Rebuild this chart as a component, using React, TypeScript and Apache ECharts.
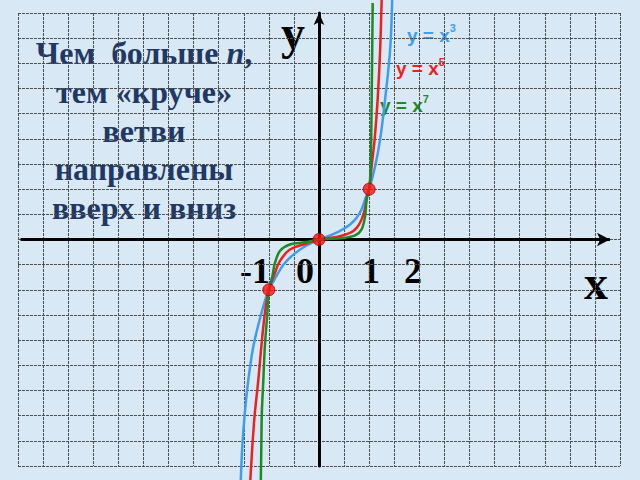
import { useEffect, useRef } from 'react'
import * as echarts from 'echarts'

// points, in axis units (1 unit = 2 grid cells)
const cubePoints: [number, number][] = [
  [-1.56, -4.8], [-1.53, -4.13], [-1.48, -3.46], [-1.41, -2.8], [-1.31, -2.13], [-1.15, -1.47],
  [-1, -1], [-0.85, -0.73], [-0.71, -0.5], [-0.51, -0.3], [-0.25, -0.12], [0, 0],
  [0.22, 0.08], [0.42, 0.17], [0.62, 0.3], [0.75, 0.43], [0.85, 0.6], [0.92, 0.8], [1, 1],
  [1.12, 1.46], [1.22, 2.0], [1.32, 2.8], [1.42, 3.8], [1.46, 4.8],
]

const fifthPoints: [number, number][] = [
  [-1.37, -4.8], [-1.33, -4.13], [-1.28, -3.46], [-1.21, -2.8], [-1.15, -2.13], [-1.08, -1.47],
  [-1, -1], [-0.88, -0.67], [-0.78, -0.43], [-0.58, -0.2], [-0.25, -0.08], [0, 0],
  [0.35, 0.05], [0.62, 0.13], [0.75, 0.23], [0.85, 0.4], [0.92, 0.63], [0.95, 0.83], [1, 1],
  [1.05, 1.46], [1.11, 2.0], [1.17, 2.8], [1.22, 3.8], [1.25, 4.8],
]

const seventhPoints: [number, number][] = [
  [-1.16, -4.8], [-1.15, -4.13], [-1.14, -3.46], [-1.11, -2.8], [-1.08, -2.13], [-1.03, -1.47],
  [-1, -1], [-0.93, -0.73], [-0.88, -0.47], [-0.78, -0.23], [-0.58, -0.1], [-0.25, -0.05], [0, 0],
  [0.49, 0.03], [0.72, 0.08], [0.85, 0.2], [0.92, 0.47], [0.95, 0.8], [1, 1],
  [1.03, 1.46], [1.05, 2.8], [1.07, 4.7],
]

const commonPoints: [number, number][] = [[-1, -1], [0, 0], [1, 1]]

const curveNames = ['y = x', 'y = x', 'y = x']
const curveExponents = ['3', '5', '7']
const tickLabels = ['-1', '0', '1', '2']
const noteLines = ['тем «круче»', 'ветви', 'направлены', 'вверх и вниз']

const BLUE = '#3d9ef0'
const RED = '#f01e1e'
const GREEN = '#1d8a28'
const NAVY = '#1f3864'

export default function App() {
  const chartRef = useRef<HTMLDivElement | null>(null)

  useEffect(() => {
    if (!chartRef.current) {
      return undefined
    }

    const chart = echarts.init(chartRef.current, undefined, { renderer: 'svg' })

    const gridLine = {
      show: true,
      lineStyle: { color: '#4e4e4e', width: 1, type: [3, 1] },
    }

    const curve = (name: string, data: [number, number][], color: string, z: number) => ({
      name,
      type: 'line',
      data,
      smooth: 0.3,
      showSymbol: false,
      clip: false,
      silent: true,
      z,
      lineStyle: { color, width: 2.5 },
    })

    const serif = '"Liberation Serif", "Times New Roman", serif'
    const sans = '"Liberation Sans", Arial, sans-serif'

    const legendX = [407, 396, 380]
    const legendY = [33.5, 67, 104]
    const legendColors = [BLUE, RED, GREEN]
    const tickX = [255, 305, 371, 413]

    chart.setOption({
      animation: false,
      backgroundColor: '#d9e8f5',
      grid: { left: 18, right: 20, top: 13, bottom: 14 },
      xAxis: {
        type: 'value',
        min: -6,
        max: 6,
        interval: 0.5,
        axisLine: { show: false },
        axisTick: { show: false },
        axisLabel: { show: false },
        splitLine: gridLine,
      },
      yAxis: {
        type: 'value',
        min: -4.5,
        max: 4.5,
        interval: 0.5,
        axisLine: {
          show: true,
          onZero: true,
          symbol: ['none', 'arrow'],
          symbolSize: [8, 12],
          lineStyle: { color: '#000', width: 3 },
        },
        axisTick: { show: false },
        axisLabel: { show: false },
        splitLine: gridLine,
        z: 1,
      },
      series: [
        {
          name: 'axes',
          type: 'line',
          data: [[0, 0]],
          showSymbol: false,
          clip: false,
          silent: true,
          z: 1,
          lineStyle: { width: 0 },
          markLine: {
            silent: true,
            symbol: ['none', 'arrow'],
            symbolSize: [10, 13],
            label: { show: false },
            lineStyle: { color: '#000', width: 3, type: 'solid' },
            data: [[{ coord: [-5.95, 0] }, { coord: [5.8, 0] }]],
          },
        },
        curve('x3', cubePoints, BLUE, 3),
        curve('x5', fifthPoints, RED, 4),
        curve('x7', seventhPoints, GREEN, 5),
        {
          name: 'common',
          type: 'scatter',
          data: commonPoints,
          symbolSize: 12,
          clip: false,
          silent: true,
          z: 6,
          itemStyle: { color: '#ff1010', borderColor: '#a00000', borderWidth: 1 },
        },
      ],
      graphic: [
        {
          type: 'text',
          x: 293,
          y: 32,
          style: { text: 'y', font: `bold 48px ${serif}`, fill: '#000', align: 'center', verticalAlign: 'middle' },
        },
        {
          type: 'text',
          x: 596,
          y: 282,
          style: { text: 'x', font: `bold 48px ${serif}`, fill: '#000', align: 'center', verticalAlign: 'middle' },
        },
        ...tickLabels.map((label, index) => ({
          type: 'text',
          x: tickX[index],
          y: 271,
          style: { text: label, font: `bold 36px ${serif}`, fill: '#000', align: 'center', verticalAlign: 'middle' },
        })),
        ...curveNames.map((name, index) => ({
          type: 'text',
          x: legendX[index],
          y: legendY[index],
          style: {
            text: `{m|${name}}{s|${curveExponents[index]}}`,
            align: 'left',
            verticalAlign: 'middle',
            rich: {
              m: { fontSize: 19, fontWeight: 'bold', fontFamily: sans, fill: legendColors[index], lineHeight: 22, verticalAlign: 'bottom' },
              s: { fontSize: 11, fontWeight: 'bold', fontFamily: sans, fill: legendColors[index], lineHeight: 11, verticalAlign: 'top' },
            },
          },
        })),
        {
          type: 'text',
          x: 144,
          y: 53,
          style: {
            text: '{a|Чем  больше }{i|n}{a|,}',
            align: 'center',
            verticalAlign: 'middle',
            rich: {
              a: { fontSize: 32, fontWeight: 'bold', fontFamily: serif, fill: NAVY },
              i: { fontSize: 32, fontWeight: 'bold', fontStyle: 'italic', fontFamily: serif, fill: NAVY },
            },
          },
        },
        ...noteLines.map((line, index) => ({
          type: 'text',
          x: 144,
          y: 92 + index * 38.5,
          style: { text: line, font: `bold 32px ${serif}`, fill: NAVY, align: 'center', verticalAlign: 'middle' },
        })),
      ],
    })

    return () => {
      chart.dispose()
    }
  }, [])

  return <div ref={chartRef} style={{ position: 'fixed', left: 0, top: 0, width: 640, height: 480 }} />
}
